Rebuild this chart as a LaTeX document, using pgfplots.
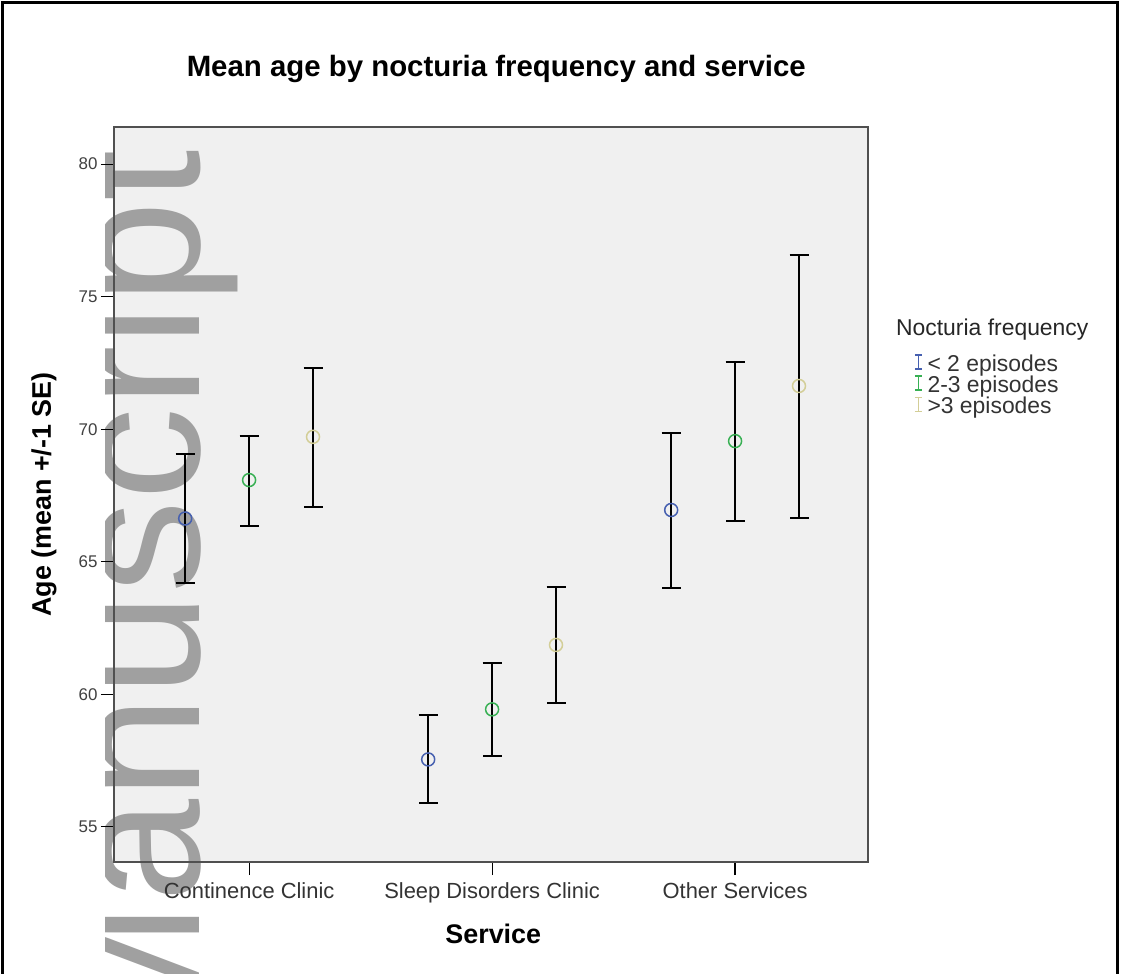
\documentclass[border=0pt]{standalone}
\usepackage{fontspec}
\setmainfont{Liberation Sans}
\usepackage{pgfplots}
\pgfplotsset{compat=1.18}
\definecolor{bgcol}{RGB}{240,240,240}
\definecolor{wm}{RGB}{160,160,160}
\definecolor{frameC}{RGB}{80,80,80}
\definecolor{sblue}{RGB}{70,96,176}
\definecolor{sgreen}{RGB}{56,176,84}
\definecolor{stan}{RGB}{211,206,151}
\begin{document}
\begin{tikzpicture}[x=1bp,y=1bp]
\path[use as bounding box] (0,0) rectangle (1121,-974);
\draw[black, line width=2.5bp] (2.5,-980) -- (2.5,-2.5) -- (1117.5,-2.5) -- (1117.5,-980);
\fill[bgcol] (114,-127) rectangle (868,-862);
\begin{scope}
\clip (105,0) rectangle (1121,-974);
\node[wm, rotate=90, anchor=base east, font=\fontsize{186}{186}\selectfont, inner sep=0pt] at (199,-150) {Manuscript};
\end{scope}
\begin{axis}[
  at={(114bp,-862bp)}, anchor=south west, scale only axis,
  width=754bp, height=735bp,
  xmin=0.444, xmax=3.547, ymin=53.67, ymax=81.40,
  xtick={1,2,3},
  xticklabels={Continence Clinic, Sleep Disorders Clinic, Other Services},
  ytick={55,60,65,70,75,80},
  tick align=outside, tick pos=left,
  major tick length=13bp,
  tick style={black, line width=1.2bp},
  axis line style={frameC, line width=2.2bp},
  /pgf/number format/assume math mode=true,
  x tick label style={font=\fontsize{22}{24}\selectfont, text=black!80, yshift=-4bp},
  y tick label style={font=\fontsize{17}{19}\selectfont, text=black!75},
  xlabel={Service},
  xlabel style={font=\bfseries\fontsize{27}{30}\selectfont, at={(axis description cs:0.503,-0.098)}, anchor=center},
  ylabel={Age (mean +/-1 SE)},
  ylabel style={font=\bfseries\fontsize{27}{30}\selectfont, at={(axis description cs:-0.0928,0.5)}, anchor=center},
  title={Mean age by nocturia frequency and service},
  title style={font=\bfseries\fontsize{29.5}{32}\selectfont, at={(axis description cs:0.507,1.0704)}, anchor=center, yshift=0pt},
  clip=false,
  legend style={draw=none, fill=none, at={(axis description cs:1.061,0.691)}, anchor=north west,
    font=\fontsize{23}{25}\selectfont, text=black!80, row sep=0pt, column sep=5bp, inner sep=0pt,
    nodes={inner sep=0pt, text height=11bp, text depth=4bp}},
  legend cell align=left,
  legend image code/.code={
    \draw[line width=1.3bp] (0bp,-1bp) -- (0bp,13bp)
      (-3.5bp,-1bp) -- (3.5bp,-1bp) (-3.5bp,13bp) -- (3.5bp,13bp);
  },
]
\addplot+[only marks, mark=o, color=sblue, mark size=6.5bp,
  mark options={line width=1.5bp, sblue, fill=none},
  error bars/.cd, y dir=both, y explicit,
  error bar style={black, line width=2bp},
  error mark options={rotate=90, black, line width=2bp, mark size=9.5bp}]
coordinates {
  (0.737,66.63) += (0,2.43) -= (0,2.42)
  (1.737,57.54) += (0,1.68) -= (0,1.66)
  (2.737,66.95) += (0,2.91) -= (0,2.96)
};
\addlegendentry{< 2 episodes}
\addplot+[only marks, mark=o, color=sgreen, mark size=6.5bp,
  mark options={line width=1.5bp, sgreen, fill=none},
  error bars/.cd, y dir=both, y explicit,
  error bar style={black, line width=2bp},
  error mark options={rotate=90, black, line width=2bp, mark size=9.5bp}]
coordinates {
  (1.000,68.08) += (0,1.66) -= (0,1.72)
  (2.000,59.43) += (0,1.74) -= (0,1.76)
  (3.000,69.55) += (0,2.97) -= (0,3.01)
};
\addlegendentry{2-3 episodes}
\addplot+[only marks, mark=o, color=stan, mark size=6.5bp,
  mark options={line width=1.5bp, stan, fill=none},
  error bars/.cd, y dir=both, y explicit,
  error bar style={black, line width=2bp},
  error mark options={rotate=90, black, line width=2bp, mark size=9.5bp}]
coordinates {
  (1.263,69.71) += (0,2.61) -= (0,2.64)
  (2.263,61.86) += (0,2.17) -= (0,2.20)
  (3.263,71.63) += (0,4.94) -= (0,4.97)
};
\addlegendentry{>3 episodes}
\node[anchor=base west, font=\fontsize{23}{25}\selectfont, text=black!85, inner sep=0pt]
  at (axis description cs:1.037,0.717) {Nocturia frequency};
\end{axis}
\end{tikzpicture}
\end{document}
